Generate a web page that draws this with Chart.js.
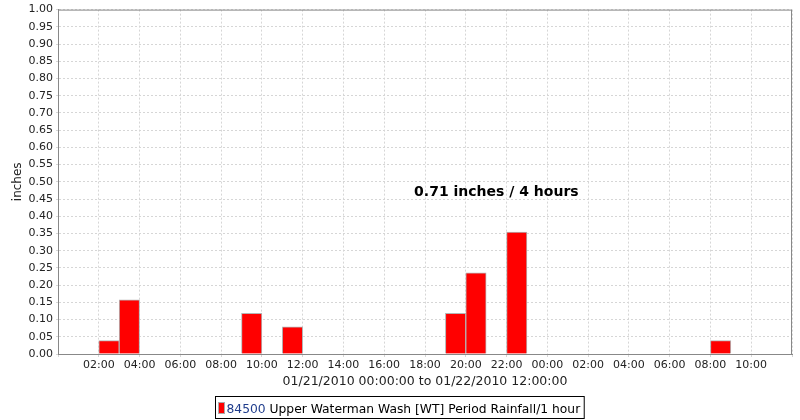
<!DOCTYPE html>
<html>
<head>
<meta charset="utf-8">
<script src="https://cdn.jsdelivr.net/npm/chart.js@4"></script>
<style>
  html, body { margin: 0; padding: 0; background: #fff; }
  #wrap { width: 800px; height: 420px; position: relative; }
</style>
</head>
<body>
<div id="wrap"><canvas id="rainChart"></canvas></div>
<script>
// hour offsets from 01/21/2010 00:00 (bar covers [h, h+1])
const barHours = [2, 3, 9, 11, 19, 20, 22, 32];
const rainfall = [0.039, 0.157, 0.118, 0.079, 0.118, 0.236, 0.354, 0.039];
const periodLabel = "0.71 inches / 4 hours";
const axisTitle = "01/21/2010 00:00:00 to 01/22/2010 12:00:00";
const stationId = "84500";
const seriesName = "Upper Waterman Wash [WT] Period Rainfall/1 hour";

const FONT = "'DejaVu Sans', sans-serif";
const GRID = "#d6d6d6";
const pad2 = (n) => String(n).padStart(2, "0");

const frame = {
  id: "frame",
  afterDraw(chart) {
    const { ctx, chartArea: a, scales } = chart;
    ctx.save();
    ctx.strokeStyle = "#888";
    ctx.lineWidth = 1;
    ctx.strokeRect(a.left + 0.5, a.top + 0.5, a.right - a.left - 1, a.bottom - a.top);

    // period total annotation
    ctx.fillStyle = "#000";
    ctx.font = "bold 14px " + FONT;
    ctx.textAlign = "center";
    ctx.textBaseline = "middle";
    ctx.fillText(periodLabel, scales.x.getPixelForValue(21.5), scales.y.getPixelForValue(0.47));

    // legend box
    ctx.font = "12.3px " + FONT;
    ctx.textAlign = "left";
    ctx.textBaseline = "alphabetic";
    const w1 = ctx.measureText(stationId).width;
    const w2 = ctx.measureText(" " + seriesName).width;
    const boxW = 11 + w1 + w2 + 4;
    const bx = Math.round(399 - boxW / 2) + 0.5, by = 396.5;
    ctx.strokeStyle = "#000";
    ctx.strokeRect(bx, by, boxW, 22);
    ctx.fillStyle = "#ff0000";
    ctx.fillRect(bx + 3, by + 6, 6, 11);
    ctx.strokeStyle = "#aaa";
    ctx.strokeRect(bx + 3, by + 6, 6, 11);
    ctx.fillStyle = "#1f3c8c";
    ctx.fillText(stationId, bx + 11, by + 16);
    ctx.fillStyle = "#000";
    ctx.fillText(" " + seriesName, bx + 11 + w1, by + 16);
    ctx.restore();
  }
};

new Chart(document.getElementById("rainChart"), {
  type: "bar",
  data: {
    datasets: [{
      label: stationId + " " + seriesName,
      data: barHours.map((h, i) => ({ x: h + 0.5, y: rainfall[i] })),
      backgroundColor: "#ff0000",
      borderColor: "#b4b4b4",
      borderWidth: 1,
      barPercentage: 1,
      categoryPercentage: 1,
    }],
  },
  options: {
    responsive: true,
    maintainAspectRatio: false,
    animation: false,
    layout: { padding: { left: 0, right: 8, top: 6, bottom: 0 } },
    scales: {
      x: {
        type: "linear",
        min: 0,
        max: 36,
        offset: false,
        grid: { color: GRID, tickLength: 3, offset: false },
        border: { color: "#888", dash: [2, 2] },
        ticks: {
          stepSize: 2,
          autoSkip: false,
          maxRotation: 0,
          color: "#222",
          font: { family: FONT, size: 11 },
          padding: 2,
          callback: (v) => (v === 0 || v === 36 ? "" : pad2(v % 24) + ":00"),
        },
        title: {
          display: true,
          text: axisTitle,
          color: "#222",
          font: { family: FONT, size: 12.5 },
          padding: { top: 0, bottom: 31 },
        },
        afterFit: (s) => { s.height = 66; },
      },
      y: {
        min: 0,
        max: 1,
        grid: { color: GRID, tickLength: 2 },
        border: { color: "#888", dash: [2, 2] },
        ticks: {
          stepSize: 0.05,
          color: "#222",
          font: { family: FONT, size: 11 },
          padding: 3,
          callback: (v) => v.toFixed(2),
        },
        title: {
          display: true,
          text: "inches",
          color: "#222",
          font: { family: FONT, size: 12 },
          padding: { top: 11, bottom: 0 },
        },
        afterFit: (s) => { s.width = 58; },
      },
    },
    plugins: {
      legend: { display: false },
      tooltip: { enabled: false },
    },
  },
  plugins: [frame],
});
</script>
</body>
</html>
